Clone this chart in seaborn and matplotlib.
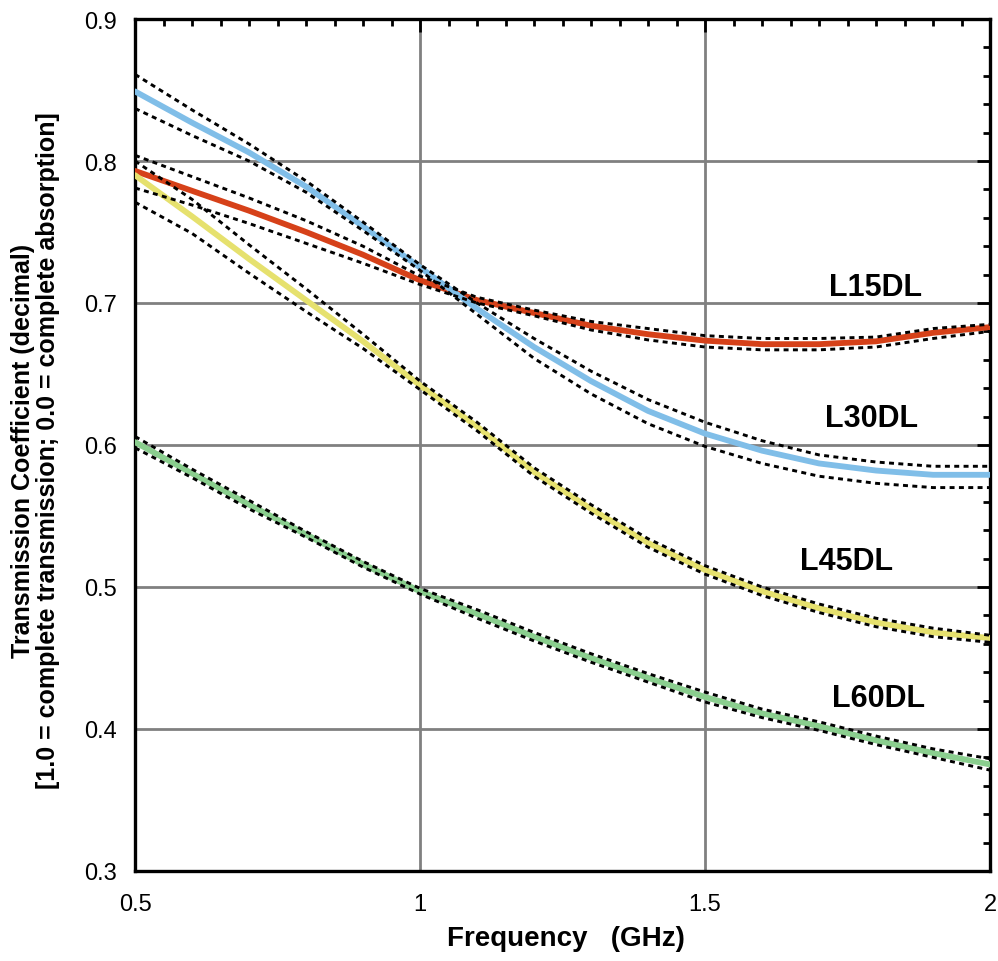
import numpy as np
import pandas as pd
import matplotlib
matplotlib.use("Agg")
import matplotlib.pyplot as plt
import seaborn as sns
from matplotlib.ticker import MultipleLocator

# --- Data ---
freq = [0.5, 0.6, 0.7, 0.8, 0.9, 1.0, 1.1, 1.2, 1.3, 1.4, 1.5, 1.6, 1.7, 1.8, 1.9, 2.0]

l15dl = [0.793, 0.779, 0.765, 0.750, 0.734, 0.716, 0.702, 0.693, 0.684, 0.678,
         0.6735, 0.671, 0.671, 0.673, 0.679, 0.683]
l15dl_hi = [0.804, 0.789, 0.774, 0.758, 0.740, 0.719, 0.704, 0.695, 0.687, 0.682,
            0.677, 0.675, 0.675, 0.676, 0.682, 0.685]
l15dl_lo = [0.781, 0.769, 0.756, 0.742, 0.728, 0.713, 0.700, 0.691, 0.681, 0.674,
            0.669, 0.667, 0.667, 0.669, 0.675, 0.680]

l30dl = [0.849, 0.827, 0.806, 0.782, 0.754, 0.725, 0.696, 0.669, 0.645, 0.624,
         0.608, 0.596, 0.587, 0.582, 0.579, 0.579]
l30dl_hi = [0.861, 0.836, 0.812, 0.786, 0.757, 0.727, 0.700, 0.675, 0.652, 0.632,
            0.616, 0.603, 0.593, 0.588, 0.585, 0.585]
l30dl_lo = [0.837, 0.818, 0.800, 0.778, 0.751, 0.723, 0.692, 0.661, 0.636, 0.615,
            0.599, 0.587, 0.578, 0.573, 0.570, 0.570]

l45dl = [0.790, 0.761, 0.731, 0.702, 0.673, 0.642, 0.613, 0.581, 0.555, 0.531,
         0.512, 0.497, 0.485, 0.475, 0.468, 0.464]
l45dl_hi = [0.800, 0.773, 0.741, 0.710, 0.678, 0.645, 0.616, 0.584, 0.558, 0.534,
            0.515, 0.500, 0.488, 0.478, 0.471, 0.466]
l45dl_lo = [0.771, 0.749, 0.721, 0.694, 0.668, 0.639, 0.610, 0.578, 0.552, 0.528,
            0.509, 0.494, 0.482, 0.472, 0.465, 0.461]

l60dl = [0.602, 0.580, 0.558, 0.537, 0.516, 0.497, 0.481, 0.465, 0.450, 0.436,
         0.4225, 0.411, 0.402, 0.392, 0.383, 0.375]
l60dl_hi = [0.606, 0.583, 0.561, 0.539, 0.518, 0.499, 0.484, 0.468, 0.453, 0.439,
            0.426, 0.414, 0.405, 0.395, 0.386, 0.379]
l60dl_lo = [0.598, 0.577, 0.555, 0.535, 0.514, 0.495, 0.478, 0.462, 0.447, 0.433,
            0.419, 0.408, 0.399, 0.389, 0.380, 0.371]

series_names = ['L15DL', 'L30DL', 'L45DL', 'L60DL']
series_colors = ['#D64119', '#80BEE8', '#E6E16E', '#8ACE8E']
label_pos = [(1.80, 0.7116), (1.793, 0.619), (1.748, 0.5183), (1.805, 0.4215)]

x_ticks = [0.5, 1.0, 1.5, 2.0]
x_tick_labels = ['0.5', '1', '1.5', '2']
y_ticks = [0.3, 0.4, 0.5, 0.6, 0.7, 0.8, 0.9]
y_tick_labels = ['0.3', '0.4', '0.5', '0.6', '0.7', '0.8', '0.9']

# --- Build long-form tables ---
means = dict(zip(series_names, [l15dl, l30dl, l45dl, l60dl]))
highs = dict(zip(series_names, [l15dl_hi, l30dl_hi, l45dl_hi, l60dl_hi]))
lows = dict(zip(series_names, [l15dl_lo, l30dl_lo, l45dl_lo, l60dl_lo]))

mean_df = pd.concat([pd.DataFrame({'freq': freq, 'value': means[n], 'series': n})
                     for n in series_names], ignore_index=True)
band_df = pd.concat(
    [pd.DataFrame({'freq': freq, 'value': highs[n], 'band': n + ' hi'}) for n in series_names] +
    [pd.DataFrame({'freq': freq, 'value': lows[n], 'band': n + ' lo'}) for n in series_names],
    ignore_index=True)

# --- Plot ---
sns.set_style('white')
plt.rcParams['font.family'] = ['Liberation Sans', 'DejaVu Sans']
plt.rcParams['text.color'] = 'black'
plt.rcParams['axes.labelcolor'] = 'black'
plt.rcParams['xtick.color'] = 'black'
plt.rcParams['ytick.color'] = 'black'

fig = plt.figure(figsize=(9.98, 9.62), dpi=100)
ax = fig.add_axes([0.1353, 0.0936, 0.8567, 0.8856])

sns.lineplot(data=mean_df, x='freq', y='value', hue='series', hue_order=series_names,
             palette=series_colors, linewidth=4.2, legend=False, ax=ax, zorder=3)

sns.lineplot(data=band_df, x='freq', y='value', units='band', estimator=None,
             color='black', linewidth=2.1, legend=False, ax=ax, zorder=4)
for line in ax.lines[len(series_names):]:
    line.set_dashes((1.7, 1.5))

for name, (lx, ly) in zip(series_names, label_pos):
    ax.text(lx, ly, name, fontsize=22, fontweight='bold', ha='center', va='center', color='black')

ax.set_xlim(0.5, 2.0)
ax.set_ylim(0.3, 0.9)
ax.xaxis.set_minor_locator(MultipleLocator(0.05))
ax.yaxis.set_minor_locator(MultipleLocator(0.02))
ax.set_xticks(x_ticks, x_tick_labels)
ax.set_yticks(y_ticks, y_tick_labels)

ax.tick_params(which='both', direction='in', top=True, right=True, color='black', width=2)
ax.tick_params(which='major', length=9.5)
ax.tick_params(which='minor', length=5)
ax.tick_params(axis='x', which='major', pad=16, labelsize=17, labelcolor='black')
ax.tick_params(axis='y', which='major', pad=13, labelsize=17, labelcolor='black')

ax.grid(True, which='major', color='#808080', linewidth=2)
ax.set_axisbelow(True)
for sp in ax.spines.values():
    sp.set_color('black')
    sp.set_linewidth(2.4)

ax.set_xlabel('Frequency   (GHz)', fontsize=20, fontweight='bold', color='black')
ax.xaxis.set_label_coords(0.504, -0.064)
ax.set_ylabel('Transmission Coefficient (decimal)\n[1.0 = complete transmission; 0.0 = complete absorption]',
              fontsize=18, fontweight='bold', linespacing=1.05, color='black')
ax.yaxis.set_label_coords(-0.088, 0.494)

fig.savefig('out.png', dpi=100)
